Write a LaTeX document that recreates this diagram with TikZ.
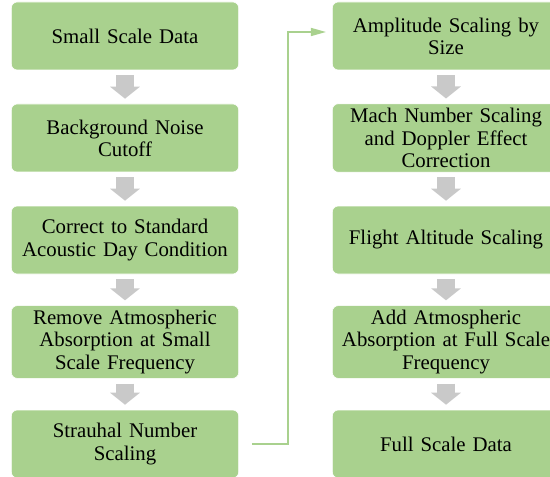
\documentclass[tikz,border=0pt]{standalone}
\usepackage{fontspec}
\setmainfont{Liberation Serif}
\usetikzlibrary{arrows.meta}
\definecolor{boxgreen}{RGB}{169,209,142}
\definecolor{arrowgray}{RGB}{201,201,201}
\tikzset{
  box/.style={fill=boxgreen, draw=white, rounded corners=0.15cm, align=center, minimum height=1.7cm, font=\fontsize{14.8}{15.8}\selectfont},
  lbox/.style={box, text width=5.45cm, minimum width=5.65cm},
  rbox/.style={box, text width=5.45cm, minimum width=5.65cm},
  down/.style={draw=arrowgray, line width=0.45cm, -{Triangle[length=0.3cm, width=0.73cm]}, shorten <=0.125cm, shorten >=0.125cm},
  link/.style={draw=boxgreen, line width=1.2pt, -{Triangle[length=0.38cm, width=0.2cm]}, shorten <=0.32cm, shorten >=0.15cm},
}
\begin{document}
\begin{tikzpicture}
    \useasboundingbox (0,0) rectangle (13.75,-11.9);
    \clip (0,0) rectangle (13.75,-11.9);
    \node[lbox] (small) at (3.125,-0.90) {Small Scale Data};
    \node[lbox] (noise) at (3.125,-3.45) {Background Noise\\Cutoff};
    \node[lbox] (acoustic) at (3.125,-6.00) {Correct to Standard\\Acoustic Day Condition};
    \node[lbox] (remove) at (3.125,-8.55) {Remove Atmospheric\\Absorption at Small\\Scale Frequency};
    \node[lbox] (strouhal) at (3.125,-11.10) {Strauhal Number\\Scaling};
    \node[rbox] (amplitude) at (11.15,-0.90) {Amplitude Scaling by\\Size};
    \node[rbox] (mach) at (11.15,-3.45) {Mach Number Scaling\\and Doppler Effect\\Correction};
    \node[rbox] (altitude) at (11.15,-6.00) {Flight Altitude Scaling};
    \node[rbox] (addabs) at (11.15,-8.55) {Add Atmospheric\\Absorption at Full Scale\\Frequency};
    \node[rbox] (full) at (11.15,-11.10) {Full Scale Data};
    \coordinate (bend) at (7.2,-0.8);
    \draw[down] (small) -- (noise);
    \draw[down] (noise) -- (acoustic);
    \draw[down] (acoustic) -- (remove);
    \draw[down] (remove) -- (strouhal);
    \draw[down] (amplitude) -- (mach);
    \draw[down] (mach) -- (altitude);
    \draw[down] (altitude) -- (addabs);
    \draw[down] (addabs) -- (full);
    \draw[link] (strouhal.east) -| (bend) -- (amplitude.west |- bend);
  \end{tikzpicture}
\end{document}
